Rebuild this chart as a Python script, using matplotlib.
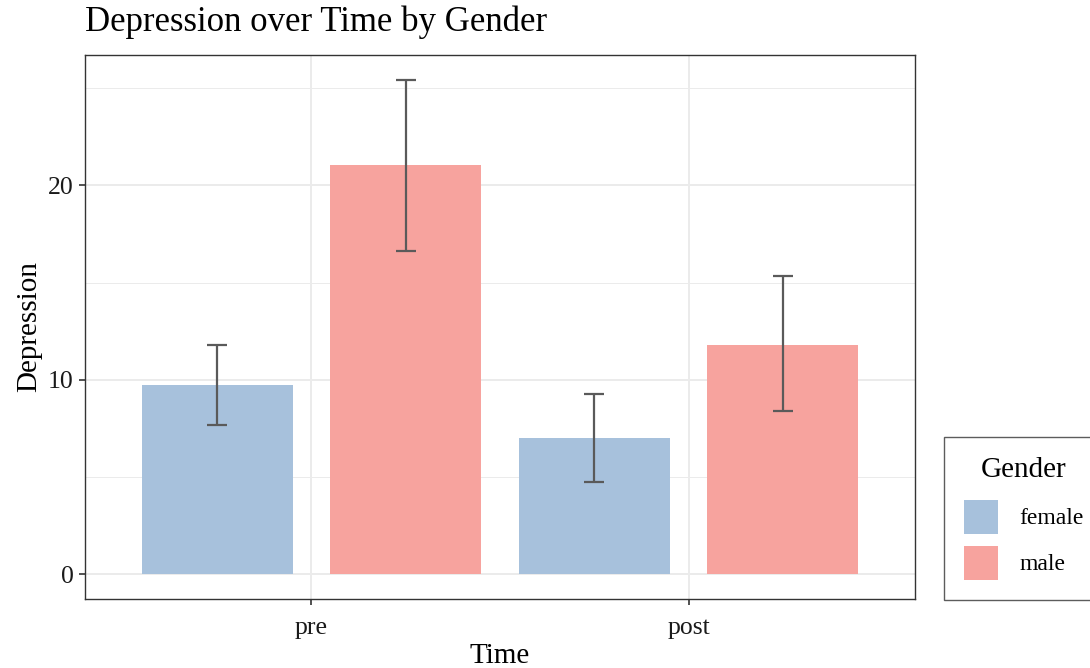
## Depression over time by gender: bar chart with error bars

import numpy as np
import matplotlib.pyplot as plt

times = ['pre', 'post']
genders = ['female', 'male']
female_mean = [9.75, 7.03]
male_mean = [21.07, 11.80]
female_lo = [7.70, 4.73]
female_hi = [11.80, 9.28]
male_lo = [16.63, 8.41]
male_hi = [25.44, 15.33]

colors = {'female': '#A7C1DC', 'male': '#F7A39E'}

plt.rcParams['font.family'] = ['Liberation Serif', 'DejaVu Serif']

fig = plt.figure(figsize=(10.9, 6.68), dpi=100)
ax = fig.add_axes([85/1090, 69/668, 830/1090, 544/668])

x = np.arange(1, len(times) + 1)
means = {'female': female_mean, 'male': male_mean}
lows = {'female': female_lo, 'male': male_lo}
highs = {'female': female_hi, 'male': male_hi}
offsets = {'female': -0.25, 'male': 0.25}

handles = []
for g in genders:
    pos = x + offsets[g]
    b = ax.bar(pos, means[g], width=0.4, color=colors[g], label=g, zorder=2)
    handles.append(b)
    m = np.array(means[g])
    err = [m - np.array(lows[g]), np.array(highs[g]) - m]
    ax.errorbar(pos, m, yerr=err, fmt='none', ecolor='#5a5a5a', elinewidth=1.6,
                capsize=7.2, capthick=1.6, zorder=3)

ax.set_xlim(0.4, 2.6)
ax.set_ylim(-1.27, 26.71)
ax.set_xticks(x)
ax.set_xticklabels(times)
ax.set_yticks([0, 10, 20])
ax.set_yticks([5, 15, 25], minor=True)
ax.tick_params(axis='both', labelsize=18.5, colors='#333333', length=4, width=1.2,
               pad=4)
ax.tick_params(axis='x', pad=9)
ax.tick_params(axis='both', labelcolor='#1a1a1a')
ax.tick_params(axis='y', which='minor', length=0)
ax.grid(True, which='major', color='#ebebeb', linewidth=1.4, zorder=0)
ax.grid(True, which='minor', axis='y', color='#ebebeb', linewidth=0.7, zorder=0)
ax.set_axisbelow(True)
for s in ax.spines.values():
    s.set_color('#333333')
    s.set_linewidth(1.0)

ax.set_xlabel('Time', fontsize=21, labelpad=3)
ax.set_ylabel('Depression', fontsize=21, labelpad=4)
fig.text(85/1090, 1 - 22/668, 'Depression over Time by Gender', fontsize=25,
         ha='left', va='center')

leg = fig.legend(handles=handles, labels=genders, title='Gender',
                 loc='upper left', bbox_to_anchor=(944/1090, 1 - 437/668),
                 fontsize=17, title_fontsize=21, frameon=True, fancybox=False,
                 handlelength=1.44, handleheight=1.84, borderpad=0.85,
                 labelspacing=0.5, handletextpad=0.9, borderaxespad=0)
leg._legend_box.sep = 0.5 * 17 + 3.6   # a bit more room under the title
leg.get_frame().set_edgecolor('#333333')
leg.get_frame().set_linewidth(1.0)

fig.savefig('out.png', dpi=100)
